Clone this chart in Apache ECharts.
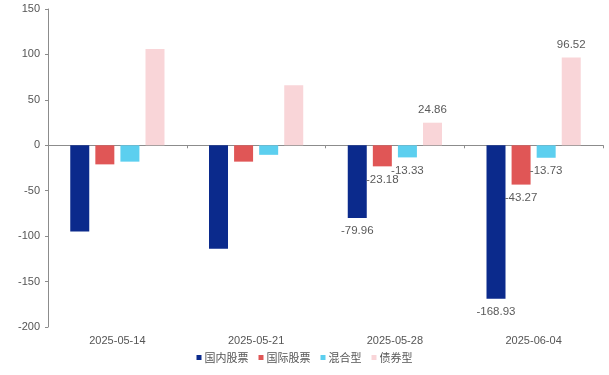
<!DOCTYPE html>
<html>
<head>
<meta charset="utf-8">
<script src="https://cdn.jsdelivr.net/npm/echarts@6/dist/echarts.min.js"></script>
<style>html,body{margin:0;padding:0;background:#fff}#c{width:609px;height:375px}</style>
</head>
<body>
<div id="c"></div>
<script>
const categories = ['2025-05-14', '2025-05-21', '2025-05-28', '2025-06-04'];
const seriesNames = ['国内股票', '国际股票', '混合型', '债券型'];
const domesticStock = [-95, -114, -79.96, -168.93];
const intlStock = [-21, -18, -23.18, -43.27];
const mixed = [-18, -10.5, -13.33, -13.73];
const bond = [106, 66, 24.86, 96.52];
const labeledIdx = [2, 3];
const yTicks = { min: -200, max: 150, interval: 50 };
const colors = ['#0b2a8c', '#e05656', '#5ccfef', '#f9d5d8'];

function toData(arr) {
  return arr.map((v, i) => ({
    value: v,
    label: {
      show: labeledIdx.indexOf(i) >= 0,
      position: v < 0 ? 'bottom' : 'top',
      distance: 7,
      color: '#5a5a5a',
      fontSize: 11.5,
      fontFamily: 'Arial, Liberation Sans, sans-serif',
      formatter: (p) => p.value.toFixed(2)
    }
  }));
}

const allData = [domesticStock, intlStock, mixed, bond];
const chart = echarts.init(document.getElementById('c'));
chart.setOption({
  animation: false,
  color: colors,
  grid: { left: 48, right: 6, top: 9, bottom: 48, containLabel: false },
  legend: {
    bottom: 7,
    left: 'center',
    icon: 'rect',
    itemWidth: 5,
    itemHeight: 5,
    itemGap: 10,
    textStyle: { color: '#555', fontSize: 11, padding: [0, 0, 0, -2], fontFamily: 'Noto Sans CJK SC, sans-serif' },
    data: seriesNames
  },
  xAxis: [
    {
      type: 'category',
      data: categories,
      position: 'bottom',
      axisLine: { show: false, onZero: false },
      axisTick: { show: false },
      axisLabel: { color: '#555', fontSize: 11, margin: 8, fontFamily: 'Arial, Liberation Sans, sans-serif' }
    },
    {
      type: 'category',
      data: categories,
      position: 'bottom',
      axisLine: { show: true, onZero: true, lineStyle: { color: '#8c8c8c', width: 1 } },
      axisTick: { show: true, length: 3, lineStyle: { color: '#8c8c8c' } },
      axisLabel: { show: false }
    }
  ],
  yAxis: {
    type: 'value',
    min: yTicks.min,
    max: yTicks.max,
    interval: yTicks.interval,
    splitLine: { show: false },
    axisLine: { show: true, lineStyle: { color: '#8c8c8c' } },
    axisTick: { show: true, length: 3, lineStyle: { color: '#8c8c8c' } },
    axisLabel: { color: '#555', fontSize: 11, margin: 8, fontFamily: 'Arial, Liberation Sans, sans-serif' }
  },
  series: seriesNames.map((n, k) => ({
    name: n,
    type: 'bar',
    xAxisIndex: 0,
    barWidth: 19,
    barGap: '32%',
    data: toData(allData[k])
  }))
});
</script>
</body>
</html>
